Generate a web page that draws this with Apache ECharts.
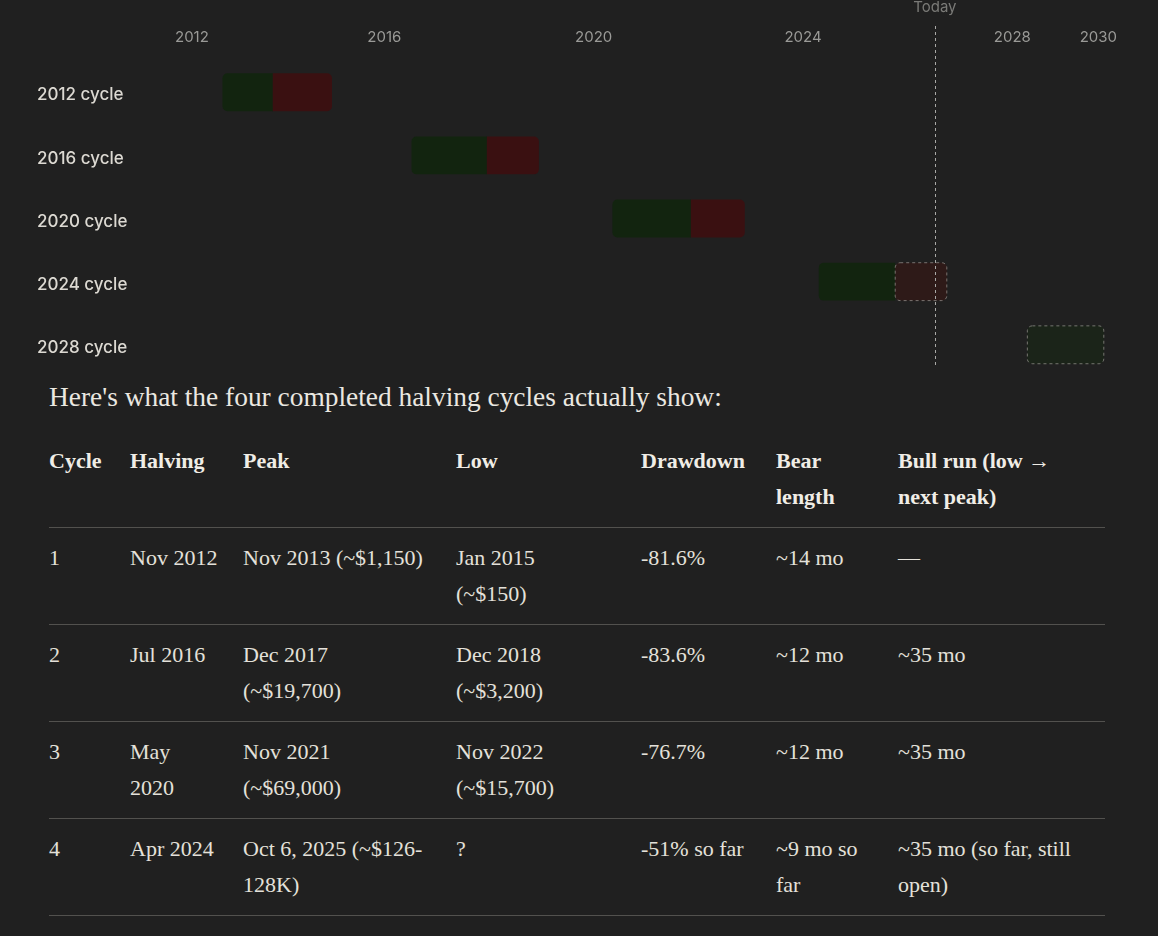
<!DOCTYPE html>
<html>
<head>
<meta charset="utf-8">
<script src="https://cdn.jsdelivr.net/npm/echarts@6/dist/echarts.min.js"></script>
<style>
  html, body { margin: 0; padding: 0; background: #202020; }
  #cycles { width: 1158px; height: 372px; }
  .lead {
    margin: 7px 0 0 49px; height: 36px; line-height: 36px;
    font-family: "Liberation Serif", serif; font-size: 27.4px; color: #ebe8e1;
  }
  table {
    margin: 16px 0 0 49px; width: 1056px; border-collapse: collapse; table-layout: fixed;
    font-family: "Liberation Serif", serif; font-size: 22px; line-height: 36px; color: #e4e1da;
  }
  th, td { text-align: left; vertical-align: top; padding: 12px 0; white-space: pre; border-bottom: 1px solid #52514e; }
  th { font-weight: 700; color: #f0ede6; }
</style>
</head>
<body>
<div id="cycles"></div>
<div class="lead">Here's what the four completed halving cycles actually show:</div>
<table id="tbl"></table>
<script>
// chart data
var cycles = ['2012 cycle', '2016 cycle', '2020 cycle', '2024 cycle', '2028 cycle'];
var halvingDates = ['2012-11-28', '2016-07-09', '2020-05-11', '2024-04-20', '2028-04-15'];
var peakDates = ['2013-11-14', '2017-12-17', '2021-11-10', '2025-10-06', '2029-10-01'];
var lowDates = ['2015-01-01', '2018-12-15', '2022-11-21', '2026-10-01', null];
var bullProjected = [0, 0, 0, 0, 1];
var bearProjected = [0, 0, 0, 1, 0];
var todayDate = '2026-07-08';

// table data
var tableHead = ['Cycle', 'Halving', 'Peak', 'Low', 'Drawdown', 'Bear\nlength', 'Bull run (low \u2192\nnext peak)'];
var tableRows = [
  ['1', 'Nov 2012', 'Nov 2013 (~$1,150)', 'Jan 2015\n(~$150)', '-81.6%', '~14 mo', '\u2014'],
  ['2', 'Jul 2016', 'Dec 2017\n(~$19,700)', 'Dec 2018\n(~$3,200)', '-83.6%', '~12 mo', '~35 mo'],
  ['3', 'May\n2020', 'Nov 2021\n(~$69,000)', 'Nov 2022\n(~$15,700)', '-76.7%', '~12 mo', '~35 mo'],
  ['4', 'Apr 2024', 'Oct 6, 2025 (~$126-\n128K)', '?', '-51% so far', '~9 mo so\nfar', '~35 mo (so far, still\nopen)']
];
var colWidths = [81, 113, 213, 185, 135, 122, 207];

function decYear(s) {
  var p = s.split('-').map(Number);
  var t = Date.UTC(p[0], p[1] - 1, p[2]);
  var a = Date.UTC(p[0], 0, 1), b = Date.UTC(p[0] + 1, 0, 1);
  return p[0] + (t - a) / (b - a);
}

var spans = [];
cycles.forEach(function (c, i) {
  spans.push([decYear(halvingDates[i]), decYear(peakDates[i]), i, 0, bullProjected[i]]);
  if (lowDates[i]) spans.push([decYear(peakDates[i]), decYear(lowDates[i]), i, 1, bearProjected[i]]);
});

var chartDom = document.getElementById('cycles');
var myChart = echarts.init(chartDom);
var option = {
  backgroundColor: '#202020',
  animation: false,
  grid: { left: 175, right: 41, top: 26, bottom: 7 },
  xAxis: {
    type: 'value', position: 'top', min: 2012, max: 2030, interval: 4,
    axisLine: { show: false }, axisTick: { show: false }, splitLine: { show: false },
    axisLabel: {
      inside: true, margin: 4, color: '#9a9a97', fontSize: 15, fontFamily: 'Inter',
      showMinLabel: true, showMaxLabel: true, alignMinLabel: 'left', alignMaxLabel: 'right',
      formatter: function (v) { return String(v); }
    }
  },
  yAxis: { type: 'value', inverse: true, min: -1.05, max: 4.32, show: false },
  series: [
    {
      type: 'custom',
      data: spans,
      renderItem: function (params, api) {
        var s = api.coord([api.value(0), api.value(2)]);
        var e = api.coord([api.value(1), api.value(2)]);
        var h = api.size([0, 0.6])[1];
        var bear = api.value(3), proj = api.value(4);
        var fill = bear ? (proj ? '#2e1a18' : '#3a1011') : (proj ? '#1b2419' : '#12240f');
        var r = proj ? 5 : (bear ? [0, 5, 5, 0] : [5, 0, 0, 5]);
        return {
          type: 'rect',
          shape: { x: s[0], y: s[1] - h / 2, width: e[0] - s[0], height: h, r: r },
          style: proj
            ? { fill: fill, stroke: 'rgba(190,185,180,0.55)', lineWidth: 1, lineDash: [3, 3] }
            : { fill: fill }
        };
      },
      markLine: {
        silent: true, symbol: ['none', 'none'],
        lineStyle: { color: '#a9a9a6', type: [3, 3], width: 1 },
        label: { formatter: 'Today', position: 'start', color: '#7a7a77', fontSize: 15, fontFamily: 'Inter', distance: 11 },
        data: [{ xAxis: decYear(todayDate) }]
      }
    },
    {
      type: 'custom',
      data: cycles.map(function (c, i) { return [2012, i]; }),
      renderItem: function (params, api) {
        var pt = api.coord([api.value(0), api.value(1)]);
        return {
          type: 'text', x: 37, y: pt[1] + 3,
          style: { text: cycles[params.dataIndex], fill: '#dcd9d2', font: '500 17px Inter', verticalAlign: 'middle', align: 'left' }
        };
      }
    }
  ]
};
myChart.setOption(option);

// table
var tbl = document.getElementById('tbl');
var html = '<colgroup>' + colWidths.map(function (w) { return '<col style="width:' + w + 'px">'; }).join('') + '</colgroup>';
html += '<tr>' + tableHead.map(function (t) { return '<th>' + t + '</th>'; }).join('') + '</tr>';
tableRows.forEach(function (r) {
  html += '<tr>' + r.map(function (t) { return '<td>' + t + '</td>'; }).join('') + '</tr>';
});
tbl.innerHTML = html;
</script>
</body>
</html>
